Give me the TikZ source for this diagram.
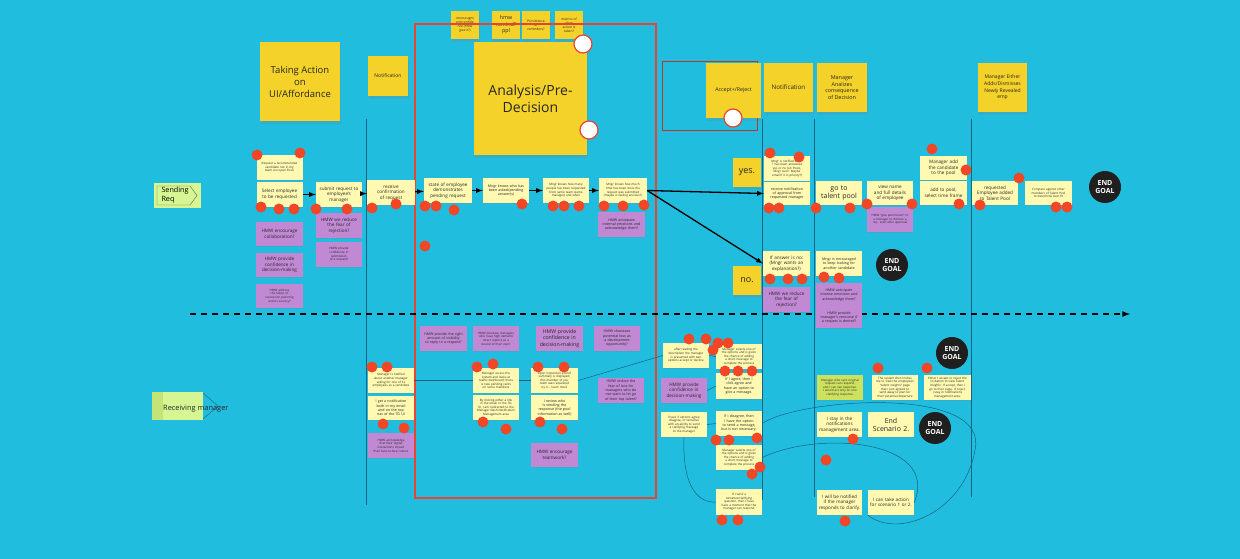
\documentclass[tikz,border=0pt]{standalone}
\usepackage{fontspec}
\setmainfont{Open Sans}
\usetikzlibrary{arrows,shadows}

\hyphenpenalty=10000
\exhyphenpenalty=10000

\definecolor{board}{RGB}{33,189,222}
\definecolor{hdryellow}{RGB}{245,210,41}
\definecolor{noteyellow}{RGB}{255,249,177}
\definecolor{hmwpurple}{RGB}{193,137,212}
\definecolor{lanegreen}{RGB}{213,246,146}
\definecolor{lanedark}{RGB}{196,228,120}
\definecolor{limenote}{RGB}{205,225,95}
\definecolor{reddot}{RGB}{242,71,38}
\definecolor{laneline}{RGB}{22,98,128}
\definecolor{boxred}{RGB}{232,68,52}

\tikzset{
  hdr/.style={fill=hdryellow, text=black!85, align=center, inner sep=1pt,
    drop shadow={shadow xshift=0.5pt, shadow yshift=-3pt, opacity=.22}},
  note/.style={fill=noteyellow, text=black!85, minimum width=46pt, minimum height=25pt,
    text width=39pt, align=center, inner sep=1pt,
    drop shadow={shadow xshift=0.3pt, shadow yshift=-1.2pt, opacity=.2}},
  hmw/.style={note, fill=hmwpurple},
  goal/.style={circle, fill=black!88, text=white, minimum size=32pt, inner sep=0pt,
    align=center, font=\bfseries\fontsize{7}{8}\selectfont},
  fxs/.style={font=\fontsize{3}{3.6}\selectfont},
  fsm/.style={font=\fontsize{3.6}{4.3}\selectfont},
  fmd/.style={font=\fontsize{4.6}{5.5}\selectfont},
  flg/.style={font=\fontsize{7}{8.2}\selectfont},
  lane/.style={draw=laneline, line width=0.9pt},
  link/.style={draw=laneline, line width=0.5pt},
  flow/.style={draw=black, line width=1.3pt, -latex},
  hole/.style={draw=boxred, fill=white, line width=1.2pt}
}

\begin{document}
\begin{tikzpicture}[x=1pt,y=-1pt]

\fill[board] (0,0) rectangle (1240,559);
\useasboundingbox (0,0) rectangle (1240,559);

% PHASE HEADERS
\node[hdr, minimum width=80pt, minimum height=79pt, font=\fontsize{9.5}{12}\selectfont] (hTake) at (300,81.5) {Taking Action\\on\\UI/Affordance};
\node[hdr, minimum width=40pt, minimum height=40pt, font=\fontsize{5}{6}\selectfont] (hNote1) at (388,76) {Notification};
\node[hdr, minimum width=113pt, minimum height=113pt, font=\fontsize{14}{17}\selectfont] (hAnal) at (530.5,98.5) {Analysis/Pre-\\Decision};
\node[hdr, minimum width=28pt, minimum height=28pt, font=\fontsize{3.3}{4}\selectfont] (qEnc) at (465,25) {encouragm\\ent/confide\\nce (hmw\\give it?)};
\node[hdr, minimum width=28pt, minimum height=28pt, font=\fontsize{5.3}{6.4}\selectfont] (qRem) at (506,25) {hmw\\remind?\\ppl};
\node[hdr, minimum width=28pt, minimum height=28pt, font=\fontsize{3.3}{4}\selectfont] (qPers) at (536,25) {Persistence\\of\\reminders?};
\node[hdr, minimum width=28pt, minimum height=28pt, font=\fontsize{3.3}{4}\selectfont] (qMet) at (569,25) {metrics of\\when\\action is\\taken?};
\draw[draw=boxred!80!black, line width=0.7pt] (662,61) rectangle (757,130);
\node[hdr, minimum width=55pt, minimum height=55pt, font=\fontsize{5.3}{6.4}\selectfont] (hAcc) at (733.5,90.5) {Accept+/Reject};
\node[hdr, minimum width=49pt, minimum height=49pt, font=\fontsize{6.2}{7.4}\selectfont] (hNote2) at (788.5,87.5) {Notification};
\node[hdr, minimum width=50pt, minimum height=49pt, font=\fontsize{5.4}{6.8}\selectfont] (hCons) at (842,87.5) {Manager\\Analizes\\consequence\\of Decision};
\node[hdr, minimum width=49pt, minimum height=49pt, font=\fontsize{5}{6.6}\selectfont] (hEith) at (1002.5,87.5) {Manager Either\\Adds/Dismisses\\Newly Revealed\\emp};
\draw[hole] (583,44) circle[radius=9pt];
\draw[hole] (589,130) circle[radius=9pt];
\draw[hole] (733,118) circle[radius=9pt];

% LANES
\draw[boxred, line width=1.2pt] (415,24) rectangle (656,498);
\draw[lane] (366,119) -- (366,505);
\draw[lane] (762,119) -- (762,500);
\draw[lane] (814,119) -- (814,497);
\draw[lane] (971,119) -- (971,497);
\draw[black, line width=1.6pt, dash pattern=on 6pt off 5pt, -latex] (190,314) -- (1130,314);

\fill[lanegreen] (154,183) rectangle (201,208);
\draw[black!60, line width=0.4pt] (157,186) -- (190,186) -- (197,195.5) -- (190,205) -- (157,205) -- cycle;
\node[anchor=west, align=left, font=\fontsize{7.2}{9}\selectfont] (sendReq) at (158,195.5) {Sending\\Req};

\fill[lanegreen] (152,392) rectangle (203,420);
\fill[lanedark] (152,392) rectangle (163,420);
\draw[laneline, line width=0.4pt] (203,393) -- (218,406) -- (203,419);
\node[anchor=west, inner sep=0pt, font=\fontsize{7.4}{9}\selectfont, text=black!85] (recvMgr) at (163,409) {Receiving manager};

% SENDING ROW
\node[note, fxs] (s0) at (279.5,167.5) {Request a recommended candidate not in my team (on open Pool)};
\node[note, fmd] (s1) at (279.5,194.5) {Select employee to be requested};
\node[note, fmd] (s2) at (339,194.5) {submit request to employee's manager};
\node[note, fmd, text width=42pt, minimum width=48pt] (s3) at (391,192.5) {receive confirmation of request};
\node[note, fmd, text width=42pt, minimum width=48pt] (s4) at (448,190.5) {state of employee demonstrates pending request};
\node[note, fsm] (s5) at (506,190.5) {Mngr knows who has been asked/pending answer(s)};
\node[note, fxs] (s6) at (566,190.5) {Mngr knows how many people has been requested from same team (same manager) and when};
\node[note, fxs, minimum width=48pt] (s7) at (623,190.5) {Mngr knows how much time has been since the request was submitted (maybe is feeling anxious?)};

\node[hmw, fmd, minimum width=47pt, minimum height=24pt] (p1) at (279.5,234) {HMW encourage collaboration?};
\node[hmw, fmd, minimum width=47pt, minimum height=24pt] (p2) at (279.5,265) {HMW provide confidence in decision-making};
\node[hmw, fxs, minimum width=47pt, minimum height=24pt, text width=34pt] (p3) at (279.5,296) {HMW address the taboo of succession planning and its secrecy?};
\node[hmw, fmd] (p4) at (339,225.5) {HMW we reduce the fear of rejection?};
\node[hmw, fxs, text width=34pt] (p5) at (339,254.5) {HMW provide confidence in submission of a request?};
\node[hmw, fsm, minimum width=47pt] (p6) at (621.5,224.5) {HMW anticipate internal emotions and acknowledge them?};

\draw[flow] (s1) -- (s2);
\draw[flow] (s2) -- (s3);
\draw[flow] (s3) -- (s4);
\draw[flow] (s4) -- (s5);
\draw[flow] (s5) -- (s6);
\draw[flow] (s6) -- (s7);

% DECISION: YES
\node[hdr, minimum width=28pt, minimum height=29pt, font=\fontsize{9}{10}\selectfont] (yes) at (747,172.5) {yes.};
\node[note, fxs] (y0) at (787,168.5) {Mngr is notified when ? has been answered yes or no (on Pools, Mngr sure? Maybe email if it is priority?)};
\node[note, fsm, minimum height=23pt] (y1) at (787,193.5) {receive notification of approval from requested manager};
\node[note, flg, minimum height=24pt, text width=42pt] (y2) at (839,193) {go to talent pool};
\node[note, fmd, minimum height=24pt] (y3) at (890,193) {view name and full details of employee};
\node[hmw, fxs] (p7) at (890,219.5) {HMW ``give permission'' to a manager to dismiss a req. even after approval};
\node[note, fmd, minimum width=47pt, minimum height=24pt, text width=42pt] (y4) at (943.5,168) {Manager add the candidate to the pool};
\node[note, fmd, minimum width=47pt, minimum height=24pt] (y5) at (943.5,193) {add to pool, select time frame};
\node[note, fmd, minimum height=24pt] (y6) at (995,193) {requested Employee added to Talent Pool};
\node[note, fxs, minimum width=47pt, minimum height=24pt, text width=36pt] (y7) at (1048.5,193) {Compare against other members of Talent Pool to determine best fit};
\node[goal] (g1) at (1105,187) {END\\GOAL};

% DECISION: NO
\node[hdr, minimum width=28pt, minimum height=29pt, font=\fontsize{9}{10}\selectfont] (no) at (747,280.5) {no.};
\node[note, fmd, minimum width=47pt] (n0) at (786.5,263.5) {If answer is no: (Mngr wants an explanation?)};
\node[hmw, fmd, minimum width=47pt] (p8) at (786.5,299.5) {HMW we reduce the fear of rejection?};
\node[note, fsm] (n1) at (839,263.5) {Mngr is encouraged to keep looking for another candidate};
\node[hmw, fsm, minimum height=24pt] (p9) at (839,295) {HMW anticipate intense emotions and acknowledge them?};
\node[hmw, fsm, minimum height=21pt] (p10) at (839,317.5) {HMW provide manager's recourse if a request is denied?};
\node[goal] (g2) at (892,265) {END\\GOAL};

\draw[flow] (s7.east) -- (y1.west);
\draw[flow] (s7.east) -- (n0.west);

% RECEIVING ROW
\node[note, fxs] (r0) at (391,380.5) {Manager is notified about another manager asking for one of its employees as a candidate};
\node[note, fsm, minimum height=24pt] (r1) at (391,408) {I get a notification both in my email and on the top nav of the TG UI};
\node[hmw, fxs] (p11) at (391,445.5) {HMW acknowledge that their digital interactions impact their face-to-face culture};
\node[hmw, fsm, minimum width=47pt] (p12) at (443.5,338.5) {HMW provide the right amount of visibility to reply to a request?};
\node[hmw, fxs] (p13) at (496,338.5) {HMW decrease managers who have high demand direct reports as a bound of their own?};
\node[hmw, font=\fontsize{5.2}{6.2}\selectfont, minimum width=47pt, text width=42pt] (p14) at (559.5,338.5) {HMW provide confidence in decision-making};
\node[hmw, fsm] (p15) at (617,338.5) {HMW showcase potential loss as a development opportunity?};
\node[note, fxs] (r2) at (496,380.5) {Manager access the system and looks at teams dashboard; there is new pending cards on some members};
\node[note, fxs] (r3) at (496,407.5) {By clicking either a link in the email or the TG UI, I am redirected to the Manager Dash Notification Management area};
\node[note, fxs, minimum width=47pt] (r4) at (554.5,380.5) {Upon inspection a brief summary is displayed; this member of you team was requested by X... learn more};
\node[note, fsm, minimum width=47pt] (r5) at (554.5,407.5) {I review who is sending the response (the pool information as well)};
\node[hmw, fsm] (p16) at (621,390.5) {HMW reduce the fear of loss for managers who do not want to let go of their top talent?};
\node[hmw, fmd, minimum width=47pt, minimum height=24pt] (p17) at (554.5,455) {HMW encourage teamwork?};

\node[note, fxs] (r6) at (686,355.5) {after reading the description the manager is presented with two options accept or decline};
\node[note, fxs] (r7) at (739,356.5) {Manager selects one of the options and is given the chance of adding a short message to complete the process};
\node[note, fsm, minimum height=26pt] (r8) at (739,386) {If I agree, then I click agree and have an option to give a message.};
\node[hmw, fmd, text width=42pt] (p18) at (684,390.5) {HMW provide confidence in decision-making};
\node[note, fxs] (r9) at (684,424.5) {I have 3 options agree, disagree, or tentative with an ability to send a clarifying message to the manager};
\node[note, fsm] (r10) at (739,423.5) {If I disagree, then I have the option to send a message, but is not necessary.};
\node[note, fxs] (r11) at (739,457.5) {Manager selects one of the options and is given the chance of adding a short message to complete the process};
\node[note, fxs, minimum height=26pt] (r12) at (739,502) {If I send a tentative/clarifying question, then I have have a moment that the manager can respond};

\node[note, fxs, fill=limenote] (r13) at (840,387.5) {Manager who sent original request can respond, and I can see response. I would act only on one clarifying response.};
\node[note, fxs] (r14) at (895,387.5) {The system then invites me to view the employee's ``talent insights'' page that I just agreed to send away to plan for their potential departure};
\node[note, fxs, minimum width=47pt] (r15) at (947.5,387.5) {Either I accept or reject the invitation to view Talent Insights. If accept, then I go to their page. If reject, I stay in notifications management area.};
\node[goal] (g3) at (952,353) {END\\GOAL};
\node[note, fmd, minimum width=45pt, text width=43pt] (r16) at (839.5,424.5) {I stay in the notifications management area.};
\node[note, flg, text width=44pt] (r17) at (891,424.5) {End\\Scenario 2.};
\node[goal] (g4) at (935,428) {END\\GOAL};
\node[note, fmd, minimum width=45pt, text width=43pt] (r18) at (839.5,502.5) {I will be notified if the manager responds to clarify.};
\node[note, fmd, text width=43pt] (r19) at (891,502.5) {I can take action for scenario 1 or 2.};

% thin links between receiving notes
\draw[link] (r0.east) -- (r2.west);
\draw[link] (r2.east) -- (r4.west);
\draw[link] (r4.east) -- (r6.west);
\draw[link] (r6.east) -- (r7.west);
\draw[link] (p18.east) -- (r8.west);
\draw[link] (r9.east) -- (r10.west);
\draw[link] (r9.south) .. controls (682,490) and (700,503) .. (r12.west);
\draw[link] (r10.east) .. controls (800,398) and (990,385) .. (975,450) .. controls (965,510) and (900,540) .. (r19.south west);
\draw[link] (r11.east) .. controls (820,430) and (940,440) .. (r19.east);

% DOTS
\foreach \x/\y in {257/155, 300/153, 261/207, 279/209, 294/209, 316/209, 347/209, 372/208, 396/204,
  425/206, 436/206, 454/210, 522/204, 553/206, 564/206, 579/206, 604/206, 623/206, 644/205, 425/246,
  770/153, 799/157, 769/208, 779/208, 816/208, 850/208, 867/204,
  932/149, 966/170, 912/204, 959/204, 980/205, 1019/178, 1056/207, 1067/207,
  770/279, 788/279, 802/279, 824/277, 839/278,
  372/367, 387/367, 383/424, 404/428,
  477/367, 493/364, 538/367, 564/367, 483/422, 506/429, 540/422, 562/429,
  689/339, 706/339, 718/343, 728/343, 713/350, 725/371, 738/371, 752/371,
  716/440, 729/440, 757/438, 760/467, 752/474, 722/520, 738/520,
  878/368, 927/368, 853/439, 826/460, 845/521}
  \fill[reddot] (\x,\y) circle[radius=5.5pt];

\end{tikzpicture}
\end{document}
